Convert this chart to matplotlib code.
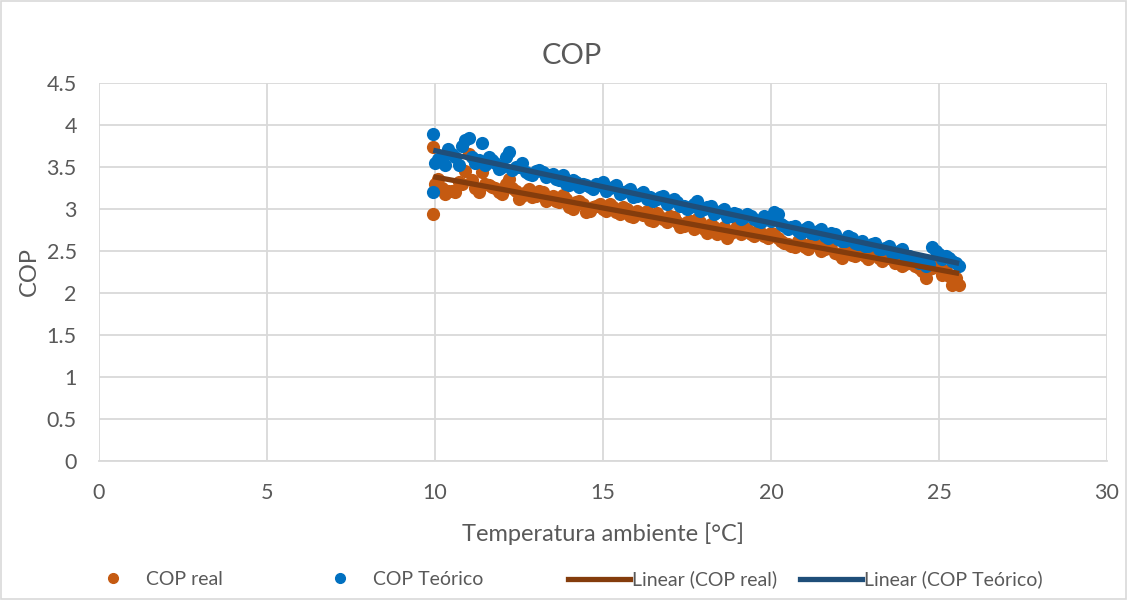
"""COP vs ambient temperature: measured vs theoretical, with linear trend lines."""

import matplotlib.pyplot as plt
import numpy as np
from matplotlib.lines import Line2D

# ambient temperature samples [°C]
temp = [
    9.95, 9.95, 10.0, 10.2, 10.4, 10.6, 10.8, 10.9, 11.0, 11.2, 11.4, 11.6, 11.8,
    12.0, 12.2, 12.4, 12.6, 12.8, 13.0, 13.2, 13.4, 13.6, 13.8, 14.0, 14.2,
    14.4, 14.6, 14.8, 15.0, 15.2, 15.4, 15.6, 15.8, 16.0, 16.2, 16.4, 16.6,
    16.8, 17.0, 17.2, 17.4, 17.6, 17.8, 18.0, 18.2, 18.4, 18.6, 18.8, 19.0,
    19.2, 19.4, 19.6, 19.8, 20.0, 20.2, 20.4, 20.6, 20.8, 21.0, 21.2, 21.4,
    21.6, 21.8, 22.0, 22.2, 22.4, 22.6, 22.8, 23.0, 23.2, 23.4, 23.6, 23.8,
    24.0, 24.2, 24.4, 24.6, 24.8, 25.0, 25.2, 25.4, 25.6,
    10.1, 10.3, 10.5, 10.7, 11.1, 11.3, 11.5, 11.7, 11.9, 12.1, 12.3, 12.5,
    12.7, 12.9, 13.1, 13.3, 13.5, 13.7, 13.9, 14.1, 14.3, 14.5, 14.7, 14.9,
    15.1, 15.3, 15.5, 15.7, 15.9, 16.1, 16.3, 16.5, 16.7, 16.9, 17.1, 17.3,
    17.5, 17.7, 17.9, 18.1, 18.3, 18.5, 18.7, 18.9, 19.1, 19.3, 19.5, 19.7,
    19.9, 20.1, 20.3, 20.5, 20.7, 20.9, 21.1, 21.3, 21.5, 21.7, 21.9, 22.1,
    22.3, 22.5, 22.7, 22.9, 23.1, 23.3, 23.5, 23.7, 23.9, 24.1, 24.3, 24.5,
    24.7, 24.9, 25.1, 25.3, 25.5,
]

cop_real = [
    3.74, 2.94, 3.30, 3.25, 3.22, 3.20, 3.30, 3.45, 3.66, 3.25, 3.44, 3.28, 3.25,
    3.18, 3.36, 3.22, 3.15, 3.24, 3.16, 3.20, 3.12, 3.10, 3.17, 3.02, 3.08,
    3.06, 2.98, 3.04, 3.00, 3.06, 2.96, 3.02, 2.92, 2.98, 2.93, 2.87, 2.95,
    2.88, 2.92, 2.84, 2.80, 2.86, 2.88, 2.76, 2.82, 2.70, 2.78, 2.72, 2.80,
    2.74, 2.70, 2.75, 2.68, 2.72, 2.66, 2.60, 2.56, 2.62, 2.55, 2.60, 2.56,
    2.52, 2.58, 2.46, 2.52, 2.45, 2.50, 2.44, 2.48, 2.42, 2.46, 2.40, 2.44,
    2.34, 2.38, 2.30, 2.18, 2.30, 2.36, 2.26, 2.10, 2.10,
    3.36, 3.18, 3.22, 3.32, 3.35, 3.20, 3.30, 3.26, 3.20, 3.30, 3.25, 3.12,
    3.20, 3.14, 3.22, 3.10, 3.15, 3.08, 3.12, 3.00, 3.10, 2.96, 3.02, 3.06,
    2.98, 3.02, 2.94, 3.00, 2.90, 2.95, 2.98, 2.86, 2.90, 2.85, 2.90, 2.78,
    2.84, 2.76, 2.84, 2.72, 2.78, 2.74, 2.66, 2.75, 2.70, 2.76, 2.68, 2.72,
    2.65, 2.70, 2.62, 2.58, 2.55, 2.60, 2.52, 2.58, 2.50, 2.55, 2.48, 2.42,
    2.50, 2.44, 2.46, 2.40, 2.45, 2.38, 2.42, 2.36, 2.32, 2.36, 2.32, 2.26,
    2.28, 2.32, 2.22, 2.20, 2.18,
]

cop_teorico = [
    3.89, 3.20, 3.55, 3.58, 3.72, 3.62, 3.75, 3.82, 3.85, 3.55, 3.78, 3.62, 3.55,
    3.50, 3.68, 3.50, 3.55, 3.42, 3.45, 3.44, 3.40, 3.36, 3.40, 3.28, 3.32,
    3.30, 3.26, 3.30, 3.32, 3.25, 3.28, 3.20, 3.24, 3.16, 3.20, 3.14, 3.12,
    3.16, 3.10, 3.08, 3.04, 3.02, 3.10, 3.00, 3.04, 2.96, 3.00, 2.92, 2.94,
    2.90, 2.92, 2.86, 2.92, 2.86, 2.94, 2.80, 2.78, 2.74, 2.76, 2.72, 2.74,
    2.68, 2.72, 2.64, 2.62, 2.66, 2.58, 2.56, 2.58, 2.52, 2.54, 2.48, 2.50,
    2.44, 2.40, 2.36, 2.32, 2.55, 2.46, 2.44, 2.38, 2.32,
    3.60, 3.52, 3.66, 3.52, 3.62, 3.58, 3.52, 3.58, 3.48, 3.62, 3.46, 3.50,
    3.44, 3.40, 3.46, 3.38, 3.42, 3.34, 3.30, 3.34, 3.26, 3.28, 3.24, 3.28,
    3.22, 3.26, 3.18, 3.22, 3.14, 3.18, 3.12, 3.10, 3.14, 3.06, 3.12, 3.04,
    3.00, 3.06, 2.98, 3.02, 2.94, 2.98, 2.90, 2.95, 2.88, 2.94, 2.88, 2.84,
    2.88, 2.96, 2.82, 2.76, 2.80, 2.72, 2.78, 2.70, 2.76, 2.66, 2.70, 2.62,
    2.68, 2.60, 2.62, 2.56, 2.60, 2.52, 2.56, 2.48, 2.52, 2.44, 2.42, 2.38,
    2.34, 2.50, 2.40, 2.42, 2.36,
]

REAL_COLOR = "#C55A11"
TEO_COLOR = "#0070C0"
REAL_TREND = "#843C0C"
TEO_TREND = "#1F4E79"
TEXT_COLOR = "#595959"
GRID_COLOR = "#D9D9D9"

plt.rcParams["font.family"] = ["Lato", "DejaVu Sans"]

fig = plt.figure(figsize=(11.27, 6), dpi=100)
ax = fig.add_axes([99 / 1127, 1 - 461 / 600, 1008 / 1127, 378 / 600])

x = np.array(temp)
ax.scatter(x, cop_real, s=90, color=REAL_COLOR, zorder=3, linewidths=0)
ax.scatter(x, cop_teorico, s=90, color=TEO_COLOR, zorder=3, linewidths=0)

# linear trend lines, as Excel does
xs = np.array([x.min(), x.max()])
for ys, col in [(cop_real, REAL_TREND), (cop_teorico, TEO_TREND)]:
    m, b = np.polyfit(x, ys, 1)
    ax.plot(xs, m * xs + b, color=col, linewidth=3.8, zorder=4, solid_capstyle="butt")

ax.set_xlim(0, 30)
ax.set_ylim(0, 4.5)
ax.set_xticks(np.arange(0, 31, 5))
ax.set_yticks(np.arange(0, 4.51, 0.5))
ax.set_yticklabels([f"{v:g}" for v in np.arange(0, 4.51, 0.5)])
ax.grid(True, color=GRID_COLOR, linewidth=1.3, zorder=0)
ax.set_axisbelow(True)
for s in ["top", "right", "left"]:
    ax.spines[s].set_visible(False)
ax.spines["bottom"].set_color(GRID_COLOR)
ax.spines["bottom"].set_linewidth(1.3)
ax.tick_params(length=0, labelsize=15.5, colors=TEXT_COLOR, pad=16)

fig.text(572 / 1127, 1 - 56 / 600, "COP", fontsize=21, color=TEXT_COLOR,
         ha="center", va="center")
ax.set_xlabel("Temperatura ambiente [°C]", fontsize=17, color=TEXT_COLOR, labelpad=14)
ax.set_ylabel("COP", fontsize=17, color=TEXT_COLOR, labelpad=5)

# legend entries laid out like Excel's (one legend per entry, placed along the bottom)
handles = [
    Line2D([], [], linestyle="", marker="o", markersize=7, color=REAL_COLOR),
    Line2D([], [], linestyle="", marker="o", markersize=7, color=TEO_COLOR),
    Line2D([], [], color=REAL_TREND, linewidth=3.8),
    Line2D([], [], color=TEO_TREND, linewidth=3.8),
]
labels = ["COP real", "COP Teórico", "Linear (COP real)", "Linear (COP Teórico)"]
entry_x = [82, 309, 568, 800]
for h, lab, px in zip(handles, labels, entry_x):
    leg = fig.legend([h], [lab], loc="center left", bbox_to_anchor=(px / 1127, 0.034),
                     frameon=False, fontsize=14, handlelength=3.2, handletextpad=0.1,
                     borderpad=0, borderaxespad=0)
    for t in leg.get_texts():
        t.set_color(TEXT_COLOR)

# chart-area border
fig.patches.append(plt.Rectangle((0.001, 0.001), 0.998, 0.997, transform=fig.transFigure,
                                 fill=False, edgecolor=GRID_COLOR, linewidth=1.2))

fig.savefig("out.png", dpi=100)
